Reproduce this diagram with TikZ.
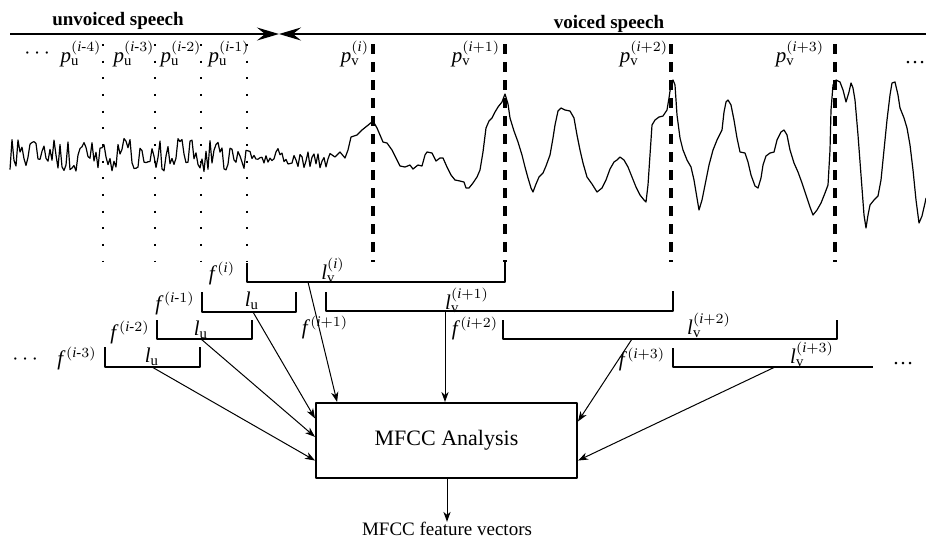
\documentclass[tikz,border=0pt]{standalone}
\usepackage{amsmath}
\usepackage{fontspec}
\setmainfont{Liberation Serif}
\usetikzlibrary{arrows.meta,calc}

\newcommand{\punv}[1]{$\mathit{p}_{\mathrm{u}}^{(\mathit{i}\text{-}#1)}$}
\newcommand{\pvoi}[1]{$\mathit{p}_{\mathrm{v}}^{(\mathit{i}#1)}$}
\newcommand{\lvoi}[1]{$\mathit{l}_{\mathrm{v}}^{(\mathit{i}#1)}$}
\newcommand{\lunv}{$\mathit{l}_{\mathrm{u}}$}
\newcommand{\fram}[1]{$\mathit{f}^{\,(\mathit{i}#1)}$}

\begin{document}
\begin{tikzpicture}[x=0.5pt, y=-0.5pt, line join=round,
	mlab/.style={font=\fontsize{10.5}{12}\selectfont, inner sep=0pt},
	title/.style={font=\fontsize{9.5}{11}\selectfont\bfseries, inner sep=0pt},
	pitchu/.style={line width=1pt, dash pattern=on 1pt off 7.33pt},
	pitchv/.style={line width=1.6pt, dash pattern=on 5pt off 4pt},
	brack/.style={line width=0.7pt},
	wave/.style={line width=0.6pt},
	feed/.style={line width=0.5pt, -{Stealth[length=5pt,width=3.6pt,inset=1.5pt]}},
	bigtip/.style={line width=0.9pt, -{Stealth[length=11pt,width=6.5pt,inset=4pt]}}]
	\useasboundingbox (0,0) rectangle (926,538);

	% speech type
	\node[title] (unv) at (118,21) {unvoiced speech};
	\node[title] (voi) at (609,24) {voiced speech};
	\coordinate (tl) at (10,34);
	\coordinate (tm) at (279,34);
	\coordinate (tr) at (926,34);
	\draw[bigtip] (tl) -- (tm);
	\draw[bigtip] (tr) -- (tm);

	% pitch marks
	\foreach \xp in {103,155,201,247}
		\draw[pitchu] (\xp,44) -- (\xp,262);
	\foreach \xp in {373,505,671,835}
		\draw[pitchv] (\xp,44) -- (\xp,262);
	\node[mlab] (dl) at (39,54) {$\cdots$};
	\node[mlab] (pu4) at (81,54) {\punv{4}};
	\node[mlab] (pu3) at (134,54) {\punv{3}};
	\node[mlab] (pu2) at (181,54) {\punv{2}};
	\node[mlab] (pu1) at (229,54) {\punv{1}};
	\node[mlab] (pv0) at (355,54) {\pvoi{}};
	\node[mlab] (pv1) at (476,54) {\pvoi{+1}};
	\node[mlab] (pv2) at (644,54) {\pvoi{+2}};
	\node[mlab] (pv3) at (800,54) {\pvoi{+3}};
	\node[mlab] (dr) at (915,63) {\ldots};

	% waveform
	\pgfmathsetseed{2024}
	\draw[wave] plot[domain=10:330, samples=161] (\x,{155+(\x<245 ? 17 : 8)*rand+(\x>285 ? 5 : 0)})
		-- plot coordinates {(335,157) (340,152) (345,158) (348,150) (351,137) (357,135) (362,130) (367,126)
		(373,121) (377,128) (383,142) (387,143) (392,150) (397,160) (400,166) (405,167) (410,165) (413,169)
		(418,165) (422,166) (425,155) (427,152) (432,153) (436,161) (440,158) (443,158) (447,167) (451,175)
		(455,180) (460,181) (464,182) (466,188) (469,188) (473,183) (477,177) (480,170) (483,152) (486,128)
		(489,121) (492,118) (495,112) (498,107) (502,102) (505,94) (508,104) (510,118) (514,131) (518,142)
		(522,155) (525,167) (528,178) (531,188) (533,192) (536,184) (539,177) (543,173) (546,166) (550,155)
		(553,138) (555,125) (558,111) (561,108) (565,110) (570,111) (574,118) (577,135) (580,150) (583,163)
		(587,177) (592,184) (597,192) (602,188) (606,180) (610,169) (614,162) (617,160) (620,157) (624,160)
		(628,167) (632,177) (636,187) (640,195) (644,200) (646,202) (648,185) (650,155) (652,125) (655,120)
		(659,117) (663,116) (667,110) (669,98) (671,84) (673,80) (675,85) (677,115) (680,138) (683,150)
		(687,160) (691,167) (694,180) (697,198) (699,210) (702,200) (705,185) (709,165) (713,150) (717,140)
		(722,130) (724,112) (726,102) (728,100) (731,105) (734,120) (737,138) (740,152) (745,153) (748,162)
		(751,175) (755,186) (758,188) (761,178) (763,165) (766,156) (770,153) (774,152) (777,140) (781,132)
		(784,130) (787,135) (790,150) (794,163) (798,172) (802,183) (806,195) (810,207) (813,215) (817,210)
		(821,203) (825,193) (828,185) (830,150) (831,110) (833,85) (836,80) (840,82) (843,90) (846,102)
		(849,92) (851,83) (853,88) (855,100) (858,135) (861,175) (864,215) (866,228) (868,215) (870,205)
		(874,200) (878,196) (881,180) (884,150) (887,120) (890,95) (892,83) (895,82) (898,95) (900,108)
		(904,118) (907,128) (910,145) (913,170) (916,200) (919,223) (922,216) (925,203) (926,198)};

	% frames
	\draw[brack] (247,263) -- (247,282) -- (505,282) -- (505,262);
	\draw[brack] (202,292) -- (202,312) -- (296,312) -- (296,292);
	\draw[brack] (326,292) -- (326,311) -- (673,311) -- (673,291);
	\draw[brack] (157,320) -- (157,339) -- (252,339) -- (252,320);
	\draw[brack] (503,320) -- (503,339) -- (837,339) -- (837,320);
	\draw[brack] (105,347) -- (105,367) -- (200,367) -- (200,347);
	\draw[brack] (673,348) -- (673,367) -- (873,367);

	\node[mlab] (f0) at (222,273) {\fram{}};
	\node[mlab] (f1) at (175,303) {\fram{\text{-}1}};
	\node[mlab] (f2) at (130,332) {\fram{\text{-}2}};
	\node[mlab] (f3) at (77,358) {\fram{\text{-}3}};
	\node[mlab] (fp1) at (325,327) {\fram{+1}};
	\node[mlab] (fp2) at (475,328) {\fram{+2}};
	\node[mlab] (fp3) at (642,359) {\fram{+3}};
	\node[mlab] (dll) at (27,360) {$\cdots$};
	\node[mlab] (drr) at (903,364) {\ldots};

	\node[mlab] (lv0) at (333,270) {\lvoi{}};
	\node[mlab] (lu1) at (252,301) {\lunv};
	\node[mlab] (lv1) at (467,300) {\lvoi{+1}};
	\node[mlab] (lu2) at (201,330) {\lunv};
	\node[mlab] (lv2) at (709,325) {\lvoi{+2}};
	\node[mlab] (lu3) at (152,357) {\lunv};
	\node[mlab] (lv3) at (812,354) {\lvoi{+3}};

	% analysis
	\node[draw, line width=1pt, minimum width=130.5pt, minimum height=37.5pt, inner sep=0pt,
		font=\fontsize{11}{13}\selectfont] (mfcc) at (446.5,440.5) {MFCC Analysis};
	\node[font=\fontsize{9.5}{11}\selectfont, inner sep=0pt] (vec) at (447,529) {MFCC feature vectors};

	\coordinate (sv0) at (308,282);
	\coordinate (sv1) at (445,311);
	\coordinate (sv2) at (632,339);
	\coordinate (sv3) at (775,367);
	\coordinate (su1) at (253,312);
	\coordinate (su2) at (201,339);
	\coordinate (su3) at (152,367);
	\draw[feed] (sv0) -- ($(mfcc.north west)!0.084!(mfcc.north east)$);
	\draw[feed] (sv1) -- (sv1 |- mfcc.north);
	\draw[feed] (su1) -- ($(mfcc.north west)!0.213!(mfcc.south west)$);
	\draw[feed] (su2) -- ($(mfcc.north west)!0.453!(mfcc.south west)$);
	\draw[feed] (su3) -- ($(mfcc.north west)!0.76!(mfcc.south west)$);
	\draw[feed] (sv2) -- ($(mfcc.north east)!0.253!(mfcc.south east)$);
	\draw[feed] (sv3) -- ($(mfcc.north east)!0.76!(mfcc.south east)$);
	\draw[feed] (mfcc.south -| vec) -- (vec.north);
\end{tikzpicture}
\end{document}
